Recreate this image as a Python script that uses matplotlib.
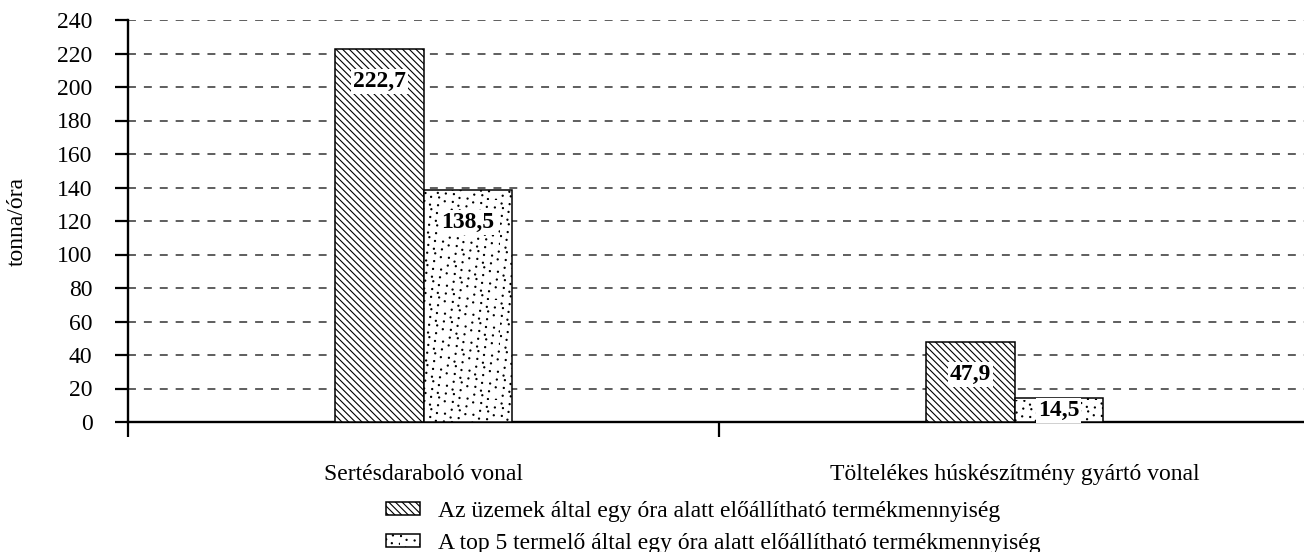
import warnings
warnings.filterwarnings('ignore')
import numpy as np
import matplotlib
matplotlib.use('Agg')
import matplotlib.pyplot as plt
import matplotlib.hatch as mhatch
from matplotlib.path import Path

# ---------------- data ----------------
categories = ['Sertésdaraboló vonal', 'Töltelékes húskészítmény gyártó vonal']
series_names = ['Az üzemek által egy óra alatt előállítható termékmennyiség',
                'A top 5 termelő által egy óra alatt előállítható termékmennyiség']
series_plants = [222.7, 47.9]
series_top5 = [138.5, 14.5]
y_ticks = list(range(0, 241, 20))
y_label = 'tonna/óra'

# ---------------- stipple hatch texture ----------------
_g = 1.32471795724474602596
_n = np.arange(1, 181)
_px = (0.5 + _n / _g) % 1.0
_py = (0.5 + _n / _g ** 2) % 1.0


class Stipple(mhatch.HatchPatternBase):
    def __init__(self, hatch, density):
        circ = Path.unit_circle()
        self.sv = circ.vertices
        self.sc = circ.codes
        self.on = hatch.count(':') > 0
        self.num_vertices = len(_px) * len(self.sv) if self.on else 0

    def set_vertices_and_codes(self, vertices, codes):
        nv = len(self.sv)
        r = 0.0058
        for i, (x, y) in enumerate(zip(_px, _py)):
            vertices[i * nv:(i + 1) * nv] = self.sv * r + (x, y)
            codes[i * nv:(i + 1) * nv] = self.sc


mhatch._hatch_types.append(Stipple)

plt.rcParams['font.family'] = ['Liberation Serif', 'DejaVu Serif']
plt.rcParams['hatch.color'] = 'black'
plt.rcParams['hatch.linewidth'] = 0.8

W, H = 1304, 552
fig = plt.figure(figsize=(W / 100, H / 100), dpi=100)
ax = fig.add_axes([128 / W, (H - 422) / H, 1182 / W, 402 / H])

x = np.arange(len(categories))
bw = 0.15
b1 = ax.bar(x - bw / 2, series_plants, bw, facecolor='white', edgecolor='black',
            linewidth=1.1, hatch='\\\\\\\\\\', label=series_names[0], zorder=3)
b2 = ax.bar(x + bw / 2, series_top5, bw, facecolor='white', edgecolor='black',
            linewidth=1.1, hatch=':', label=series_names[1], zorder=3)

for bars, vals in ((b1, series_plants), (b2, series_top5)):
    for rect, v in zip(bars, vals):
        ax.text(rect.get_x() + rect.get_width() / 2, max(v - 19.5, 7),
                f'{v:.1f}'.replace('.', ','), ha='center', va='center',
                fontsize=17, fontweight='bold', zorder=6,
                bbox=dict(boxstyle='square,pad=0.08', fc='white', ec='none'))

ax.set_xlim(-0.5, len(categories) - 0.5)
ax.set_ylim(0, 240)
ax.set_yticks(y_ticks)
ax.set_yticklabels([str(t) for t in y_ticks], fontsize=17)
ax.set_xticks(x)
ax.set_xticklabels(categories, fontsize=17)
ax.set_xticks(np.arange(len(categories) + 1) - 0.5, minor=True)
ax.tick_params(axis='x', which='major', length=0, pad=30)
ax.tick_params(axis='x', which='minor', length=10.5, width=1.6, direction='out')
ax.tick_params(axis='y', length=9.5, width=1.6, pad=16, direction='out')

for t in y_ticks[1:]:
    ax.axhline(t, color='#333333', linewidth=1.1, linestyle=(0, (5.2, 5.2)), zorder=1)

for s in ('top', 'right'):
    ax.spines[s].set_visible(False)
for s in ('left', 'bottom'):
    ax.spines[s].set_linewidth(1.7)
    ax.spines[s].set_color('black')

fig.text(17 / W, 1 - 221 / H, y_label, rotation=90, ha='center', va='center', fontsize=17)

fig.legend(handles=[b1, b2], labels=series_names, loc='upper left',
           bbox_to_anchor=(386 / W, 1 - 501 / H), frameon=False, fontsize=17,
           borderpad=0, borderaxespad=0, handlelength=1.44, handleheight=0.5,
           handletextpad=0.76, labelspacing=0.46)

fig.savefig('out.png', dpi=100)
